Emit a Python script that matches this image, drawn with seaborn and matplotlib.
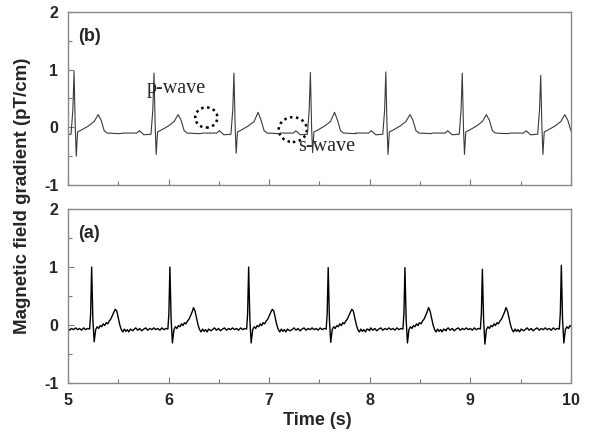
import numpy as np
import pandas as pd
import matplotlib
matplotlib.use("Agg")
import matplotlib.pyplot as plt
from matplotlib.patches import Ellipse
from matplotlib.ticker import MultipleLocator
import seaborn as sns

# ------------------------------------------------------------------
# Data
# ------------------------------------------------------------------
# panel (b): filtered trace, one entry per heart beat
r_times_b = [5.06, 5.855, 6.65, 7.41, 8.16, 8.92, 9.70]
r_peak_b = [0.97, 0.94, 0.94, 0.95, 0.96, 0.94, 0.90]
s_min_b = [-0.50, -0.47, -0.45, -0.44, -0.47, -0.47, -0.47]
t_peak_b = [0.22, 0.22, 0.26, 0.26, 0.22, 0.22, 0.22]

# beat shape for (b): offset from R peak (s) and level; letters = per-beat value
shape_off_b = [-0.30, -0.17, -0.145, -0.12, -0.10, -0.03, -0.012, 0.0, 0.012,
               0.022, 0.035, 0.07, 0.14, 0.20, 0.24, 0.27, 0.30, 0.33, 0.45]
shape_val_b = [-0.10, -0.10, -0.06, -0.10, -0.13, -0.12, 0.30, "R", 0.0,
               "S", -0.08, -0.05, 0.02, 0.10, "T", 0.12, -0.06, -0.10, -0.11]

# panel (a): raw trace
r_times_a = [5.235, 6.013, 6.796, 7.587, 8.35, 9.12, 9.905]
r_peak_a = [1.00, 1.00, 1.00, 0.99, 0.99, 0.96, 1.03]
s_min_a = [-0.29, -0.31, -0.31, -0.30, -0.31, -0.33, -0.31]
t_peak_a = [0.27, 0.30, 0.27, 0.27, 0.30, 0.30, 0.28]

shape_off_a = [-0.36, -0.34, -0.32, -0.30, -0.28, -0.26, -0.24, -0.22, -0.20,
               -0.18, -0.16, -0.14, -0.12, -0.10, -0.08, -0.06, -0.04, -0.02,
               -0.01, 0.0, 0.012, 0.025, 0.04, 0.055, 0.07, 0.085, 0.10, 0.115,
               0.13, 0.145, 0.16, 0.175, 0.19, 0.205, 0.22, 0.235, 0.25, 0.265,
               0.28, 0.295, 0.31, 0.325, 0.34, 0.355, 0.37, 0.385, 0.41]
shape_val_a = [-0.08, -0.05, -0.09, -0.06, -0.10, -0.07, -0.05, -0.09, -0.06,
               -0.08, -0.05, -0.08, -0.06, -0.09, -0.05, -0.08, -0.06, -0.07,
               0.20, "R", 0.10, "S", -0.08, -0.03, -0.06, -0.01, -0.03, 0.02,
               -0.01, 0.04, 0.02, 0.07, 0.10, 0.16, 0.22, "T", 0.24, 0.12,
               0.0, -0.08, -0.12, -0.07, -0.11, -0.08, -0.12, -0.07, -0.10]


def build_trace(r_times, r_peak, s_min, t_peak, offs, vals):
    rows = []
    for i, t0 in enumerate(r_times):
        per_beat = {"R": r_peak[i], "S": s_min[i], "T": t_peak[i]}
        for o, v in zip(offs, vals):
            rows.append({"t": t0 + o, "v": per_beat[v] if isinstance(v, str) else v})
    return pd.DataFrame(rows)


df_b = build_trace(r_times_b, r_peak_b, s_min_b, t_peak_b, shape_off_b, shape_val_b)
df_a = build_trace(r_times_a, r_peak_a, s_min_a, t_peak_a, shape_off_a, shape_val_a)

# ------------------------------------------------------------------
# Figure
# ------------------------------------------------------------------
sns.set_style("white")
plt.rcParams["font.family"] = ["Liberation Sans", "DejaVu Sans"]
plt.rcParams["font.weight"] = "bold"
plt.rcParams["axes.unicode_minus"] = False

fig = plt.figure(figsize=(5.93, 4.36), dpi=100)
ax_b = fig.add_axes([0.1147, 0.5757, 0.848, 0.397])
ax_a = fig.add_axes([0.1147, 0.1216, 0.848, 0.399])

sns.lineplot(data=df_b, x="t", y="v", ax=ax_b, color="#3a3a3a", lw=0.8,
             estimator=None)
sns.lineplot(data=df_a, x="t", y="v", ax=ax_a, color="black", lw=1.0,
             estimator=None)

for ax, tag in [(ax_b, "(b)"), (ax_a, "(a)")]:
    ax.set_xlim(5, 10)
    ax.set_ylim(-1, 2)
    ax.set_xlabel("")
    ax.set_ylabel("")
    ax.xaxis.set_major_locator(MultipleLocator(1))
    ax.xaxis.set_minor_locator(MultipleLocator(0.5))
    ax.yaxis.set_major_locator(MultipleLocator(1))
    ax.yaxis.set_minor_locator(MultipleLocator(0.5))
    ax.tick_params(which="both", direction="in", color="#777777",
                   left=True, bottom=True, right=False, top=False)
    ax.tick_params(which="major", length=4, width=0.8, labelsize=11.5, pad=7)
    ax.tick_params(which="minor", length=3, width=0.8)
    for sp in ax.spines.values():
        sp.set_color("#888888")
        sp.set_linewidth(1.0)
    for lab in ax.get_xticklabels() + ax.get_yticklabels():
        lab.set_fontweight("bold")
    ax.text(0.02, 0.86, tag, transform=ax.transAxes, fontsize=13,
            fontweight="bold", va="center", ha="left")

ax_b.tick_params(axis="x", labelbottom=False)

# annotations in panel (b)
serif = ["Liberation Serif", "DejaVu Serif"]
ax_b.text(5.785, 0.67, "p-wave", family=serif, fontweight="normal",
          fontsize=14.5, va="center", ha="left")
ax_b.text(7.29, -0.34, "s-wave", family=serif, fontweight="normal",
          fontsize=14.5, va="center", ha="left")
ax_b.add_patch(Ellipse((6.375, 0.17), 0.22, 0.35, fill=False, ec="black",
                       ls=(0, (1, 1.4)), lw=1.8))
ax_b.add_patch(Ellipse((7.235, -0.04), 0.28, 0.43, fill=False, ec="black",
                       ls=(0, (1, 1.4)), lw=1.8))

fig.text(0.535, 0.035, "Time (s)", ha="center", va="center", fontsize=13,
         fontweight="bold")
fig.text(0.038, 0.55, "Magnetic field gradient (pT/cm)", ha="center",
         va="center", rotation=90, fontsize=13.5, fontweight="bold")

fig.savefig("out.png", dpi=100)
